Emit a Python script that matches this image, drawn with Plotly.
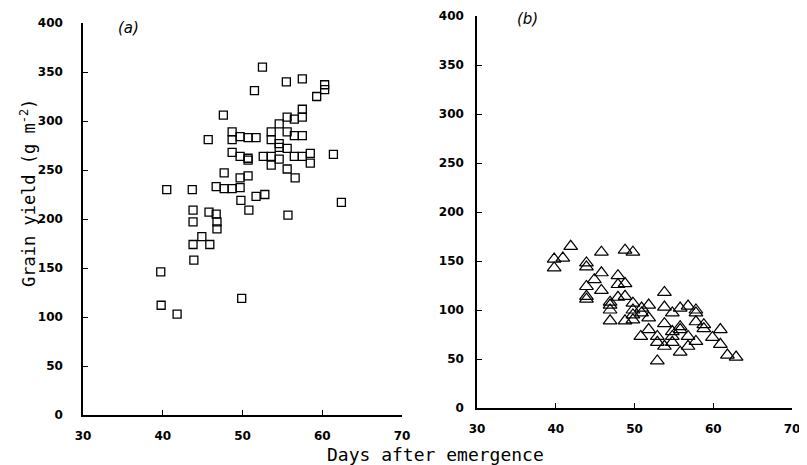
import plotly.graph_objects as go

# Panel (a): days after emergence vs grain yield (squares)
a_days = [52.5, 55.5, 57.5, 60.3, 60.3, 59.3, 51.5, 47.6, 57.5, 57.5, 55.6, 56.5, 54.6,
          53.6, 53.6, 54.6, 54.6, 55.6, 56.5, 57.5, 55.6, 45.7, 48.7, 48.7, 49.7, 50.7,
          51.7, 48.7, 49.7, 50.7, 50.7, 52.6, 53.6, 54.6, 53.6, 55.6, 56.6, 56.5, 57.5,
          58.5, 58.5, 61.4, 47.7, 49.7, 50.7, 46.7, 47.7, 48.7, 49.7, 40.5, 43.7, 49.8,
          51.7, 52.8, 62.4, 43.8, 45.8, 46.7, 50.8, 55.7, 43.8, 46.8, 46.8, 44.9, 43.8,
          45.9, 43.9, 39.75, 39.8, 41.8, 49.9]
a_yield = [355, 340, 343, 337, 332, 325, 331, 306, 312, 304, 304, 302, 297,
           289, 281, 277, 273, 289, 285, 285, 272, 281, 289, 281, 284, 283,
           283, 268, 264, 262, 260, 264, 264, 261, 255, 251, 242, 264, 264,
           267, 257, 266, 247, 242, 244, 233, 231, 231, 232, 230, 230, 219,
           223, 225, 217, 209, 207, 205, 209, 204, 197, 197, 190, 182, 174,
           174, 158, 146, 112, 103, 119]

# Panel (b): triangles
b_days = [39.8, 39.8, 40.9, 41.9, 43.9, 43.9, 43.9, 43.9, 43.9, 44.9, 45.8, 45.8, 45.8,
          46.9, 46.9, 46.9, 46.9, 47.9, 47.9, 47.9, 48.8, 49.8, 48.8, 48.8, 48.8, 49.8,
          49.8, 49.8, 49.8, 50.9, 50.9, 51.8, 51.8, 50.8, 51.8, 52.9, 52.9, 52.9, 53.8,
          53.8, 53.8, 53.8, 54.8, 54.8, 54.8, 54.8, 55.8, 55.8, 55.8, 55.8, 56.8, 56.8,
          56.8, 57.8, 57.8, 57.8, 57.8, 58.8, 58.8, 59.9, 60.9, 60.9, 61.8, 62.9]
b_yield = [152, 143, 153, 165, 148, 144, 124, 114, 111, 131, 159, 138, 120,
           108, 105, 100, 89, 135, 126, 113, 161, 159, 127, 114, 89, 107,
           100, 95, 90, 102, 97, 105, 92, 73, 80, 73, 67, 48, 118,
           103, 86, 63, 97, 78, 73, 67, 102, 83, 80, 57, 104, 73,
           63, 100, 97, 88, 68, 85, 81, 72, 80, 65, 54, 52]

x_ticks = [30, 40, 50, 60, 70]
y_ticks = [0, 50, 100, 150, 200, 250, 300, 350, 400]

OX, OY = 8, 8  # page body margin offset
W, H = 807 - OX, 465 - OY  # figure fits inside the window without scrolling


def px(x):
    return (x - OX) / W


def py(y):
    return (H - (y - OY)) / H


tickfont = dict(family="DejaVu Sans", size=12, color="black", weight="bold")

fig = go.Figure()
fig.add_trace(go.Scatter(x=a_days, y=a_yield, mode="markers", xaxis="x", yaxis="y",
                         marker=dict(symbol="square-open", size=8, color="black",
                                     line=dict(width=1.3, color="black")),
                         showlegend=False))
fig.add_trace(go.Scatter(x=b_days, y=b_yield, mode="markers", xaxis="x2", yaxis="y2",
                         marker=dict(symbol="triangle-up-open", size=12, color="black",
                                     line=dict(width=1.2, color="black")),
                         showlegend=False))


def xax(domain, anchor, standoff):
    return dict(domain=domain, anchor=anchor, range=[30, 70], tickvals=x_ticks,
                showgrid=False, zeroline=False, showline=True, linecolor="black",
                linewidth=1.5, ticks="inside", ticklen=5, tickwidth=1.3,
                tickcolor="black", tickfont=tickfont, ticklabelstandoff=standoff,
                automargin=False)


def yax(domain, anchor, standoff):
    return dict(domain=domain, anchor=anchor, range=[0, 400], tickvals=y_ticks,
                showgrid=False, zeroline=False, showline=True, linecolor="black",
                linewidth=1.5, ticks="inside", ticklen=5, tickwidth=1.3,
                tickcolor="black", tickfont=tickfont, ticklabelstandoff=standoff,
                automargin=False)


fig.update_layout(
    width=W, height=H,
    margin=dict(l=0, r=0, t=0, b=0, autoexpand=False),
    paper_bgcolor="white", plot_bgcolor="white",
    xaxis=xax([px(83), px(402)], "y", 9),
    yaxis=yax([py(415), py(23)], "x", 16),
    xaxis2=xax([px(477), px(792)], "y2", 9),
    yaxis2=yax([py(408), py(16)], "x2", 9),
    annotations=[
        dict(text="<i>(a)</i>", x=px(128), y=py(28), xref="paper", yref="paper",
             showarrow=False, xanchor="center", yanchor="middle",
             font=dict(family="DejaVu Sans", size=15, color="black")),
        dict(text="<i>(b)</i>", x=px(527), y=py(19), xref="paper", yref="paper",
             showarrow=False, xanchor="center", yanchor="middle",
             font=dict(family="DejaVu Sans", size=15, color="black")),
        dict(text="Grain yield (g m<sup>-2</sup>)", x=px(28), y=py(193),
             xref="paper", yref="paper", textangle=-90, showarrow=False,
             xanchor="center", yanchor="middle",
             font=dict(family="DejaVu Sans Mono", size=17, color="black")),
        dict(text="Days after emergence", x=px(435), y=py(454),
             xref="paper", yref="paper", showarrow=False,
             xanchor="center", yanchor="middle",
             font=dict(family="DejaVu Sans Mono", size=18, color="black")),
    ],
)

fig.write_html("out.html")
